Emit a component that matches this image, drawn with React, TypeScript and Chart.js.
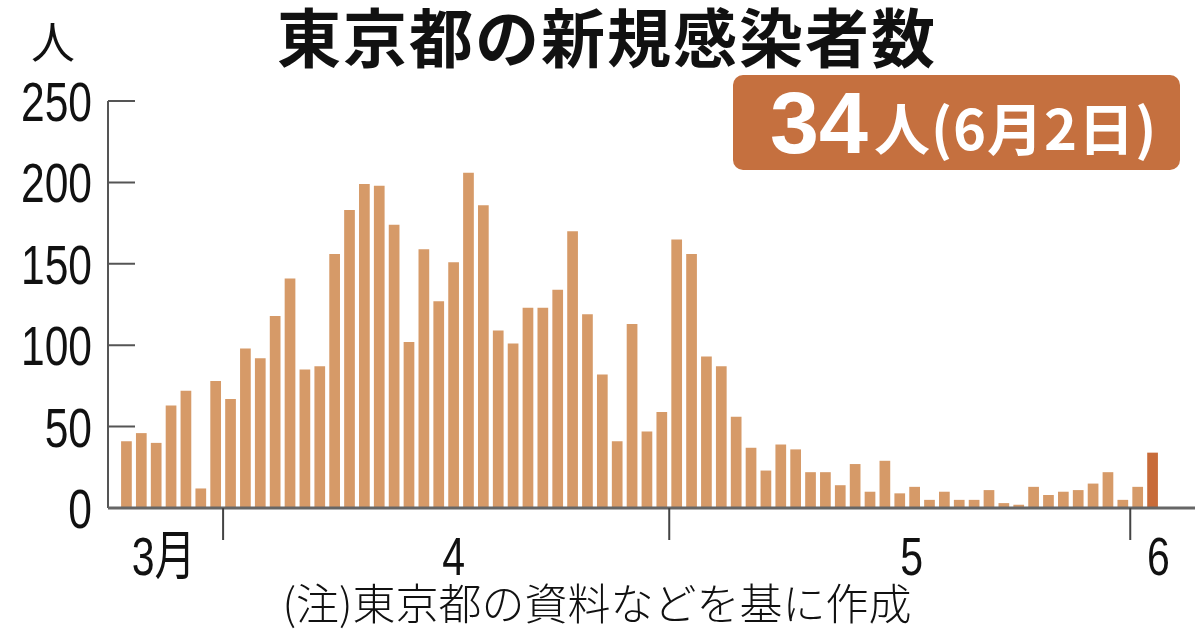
import { useEffect, useRef } from 'react'
import { Chart, registerables, type Plugin } from 'chart.js'

Chart.register(...registerables)

// 3/25 - 6/2, one bar per day
const dayLabels = [
  '3/25', '3/26', '3/27', '3/28', '3/29', '3/30', '3/31',
  '4/1', '4/2', '4/3', '4/4', '4/5', '4/6', '4/7', '4/8', '4/9', '4/10',
  '4/11', '4/12', '4/13', '4/14', '4/15', '4/16', '4/17', '4/18', '4/19', '4/20',
  '4/21', '4/22', '4/23', '4/24', '4/25', '4/26', '4/27', '4/28', '4/29', '4/30',
  '5/1', '5/2', '5/3', '5/4', '5/5', '5/6', '5/7', '5/8', '5/9', '5/10',
  '5/11', '5/12', '5/13', '5/14', '5/15', '5/16', '5/17', '5/18', '5/19', '5/20',
  '5/21', '5/22', '5/23', '5/24', '5/25', '5/26', '5/27', '5/28', '5/29', '5/30', '5/31',
  '6/1', '6/2',
]

const newCases = [
  41, 46, 40, 63, 72, 12, 78,
  67, 98, 92, 118, 141, 85, 87, 156, 183, 199,
  198, 174, 102, 159, 127, 151, 206, 186, 109, 101,
  123, 123, 134, 170, 119, 82, 41, 113, 47, 59,
  165, 156, 93, 87, 56, 37, 23, 39, 36, 22,
  22, 14, 27, 10, 29, 9, 13, 5, 10, 5,
  5, 11, 3, 2, 13, 8, 10, 11, 15, 22, 5,
  13, 34,
]

const yTicks = [0, 50, 100, 150, 200, 250]
const monthLabels = ['3月', '4', '5', '6']
const monthLabelAt = [2.5, 22, 52.8, 69.4]
const monthStarts = [7, 37, 68]

const BAR = '#D69A68'
const LATEST = '#C86B39'
const BADGE = '#C5703F'
const SANS = '"Liberation Sans", Arial, "Noto Sans CJK JP", sans-serif'
const JP = '"Noto Sans CJK JP", "Noto Sans", sans-serif'

// the print uses a condensed face; squeeze regular text horizontally
function narrowText(ctx: CanvasRenderingContext2D, text: string, x: number, y: number, align: CanvasTextAlign) {
  ctx.save()
  ctx.translate(x, y)
  ctx.scale(0.76, 1)
  ctx.textAlign = align
  ctx.fillText(text, 0, 0)
  ctx.restore()
}

const decorations: Plugin<'bar'> = {
  id: 'decorations',
  afterDraw(chart) {
    const { ctx, chartArea } = chart
    const x = chart.scales.x
    const y = chart.scales.y
    const base = y.getPixelForValue(0)
    const top = y.getPixelForValue(250)
    const axisX = chartArea.left - 11

    ctx.save()

    // y axis + inward ticks
    ctx.strokeStyle = '#555'
    ctx.lineWidth = 2
    ctx.beginPath()
    ctx.moveTo(axisX, top)
    ctx.lineTo(axisX, base)
    yTicks.forEach(v => {
      if (v === 0) return
      const py = y.getPixelForValue(v)
      ctx.moveTo(axisX, py)
      ctx.lineTo(axisX + 27, py)
    })
    ctx.stroke()

    // baseline
    ctx.strokeStyle = '#666'
    ctx.lineWidth = 3
    ctx.beginPath()
    ctx.moveTo(axisX, base)
    ctx.lineTo(chart.width - 5, base)
    ctx.stroke()

    // month boundaries
    ctx.strokeStyle = '#444'
    ctx.lineWidth = 2
    ctx.beginPath()
    monthStarts.forEach(i => {
      const px = (x.getPixelForValue(i - 1) + x.getPixelForValue(i)) / 2
      ctx.moveTo(px, base)
      ctx.lineTo(px, base + 32)
    })
    ctx.stroke()

    ctx.fillStyle = '#111'
    ctx.textBaseline = 'alphabetic'

    // y tick labels
    ctx.font = `56px ${SANS}`
    y.ticks.forEach(t => {
      narrowText(ctx, String(t.value), 92, y.getPixelForValue(t.value) + 20, 'right')
    })

    // month labels
    ctx.font = `54px ${SANS}`
    monthLabels.forEach((m, i) => {
      narrowText(ctx, m, x.getPixelForValue(monthLabelAt[i]), base + 67, 'center')
    })

    // title
    ctx.textAlign = 'center'
    ctx.textBaseline = 'middle'
    ctx.font = `bold 64px ${JP}`
    ctx.letterSpacing = '2px'
    ctx.fillText('東京都の新規感染者数', 607, 38)
    ctx.letterSpacing = '0px'

    // unit
    ctx.font = `44px ${JP}`
    ctx.fillText('人', 53, 42)

    // note
    ctx.font = `300 43px ${JP}`
    ctx.fillText('(注)東京都の資料などを基に作成', 597, 604)

    // latest value badge
    ctx.fillStyle = BADGE
    ctx.beginPath()
    ctx.roundRect(733, 75, 447, 95, 10)
    ctx.fill()
    ctx.fillStyle = '#fff'
    ctx.textAlign = 'left'
    ctx.textBaseline = 'alphabetic'
    const latest = String(newCases[newCases.length - 1])
    ctx.font = `bold 88px "Liberation Sans", Arial, sans-serif`
    ctx.fillText(latest, 770, 153)
    const w = ctx.measureText(latest).width
    ctx.font = `bold 56px ${JP}`
    ctx.letterSpacing = '1px'
    ctx.fillText('人(6月2日)', 770 + w + 6, 150)

    ctx.restore()
  },
}

function CasesChart() {
  const canvasRef = useRef<HTMLCanvasElement | null>(null)
  const chartRef = useRef<Chart<'bar'> | null>(null)

  useEffect(() => {
    if (!canvasRef.current) return
    const colors = newCases.map((_, i) => (i === newCases.length - 1 ? LATEST : BAR))

    chartRef.current = new Chart(canvasRef.current, {
      type: 'bar',
      data: {
        labels: dayLabels,
        datasets: [
          {
            label: '新規感染者数',
            data: newCases,
            backgroundColor: colors,
            borderWidth: 0,
            barPercentage: 0.72,
            categoryPercentage: 1,
          },
        ],
      },
      options: {
        animation: false,
        responsive: true,
        maintainAspectRatio: false,
        layout: { padding: { top: 101, bottom: 122, right: 40, left: 0 } },
        plugins: { legend: { display: false }, tooltip: { enabled: false } },
        scales: {
          x: { display: false },
          y: {
            min: 0,
            max: 250,
            ticks: { stepSize: 50, display: false },
            grid: { display: false, drawTicks: false },
            border: { display: false },
            afterFit: s => {
              s.width = 119
            },
          },
        },
      },
      plugins: [decorations],
    })
    return () => chartRef.current?.destroy()
  }, [])

  return (
    <canvas ref={canvasRef} role="img" aria-label="東京都の新規感染者数、6月2日は34人">
      東京都の新規感染者数（3月25日〜6月2日）。6月2日は34人。
    </canvas>
  )
}

export default function App() {
  return (
    <div style={{ position: 'fixed', left: 0, top: 0, width: 1200, height: 630, background: '#fff' }}>
      <CasesChart />
    </div>
  )
}
